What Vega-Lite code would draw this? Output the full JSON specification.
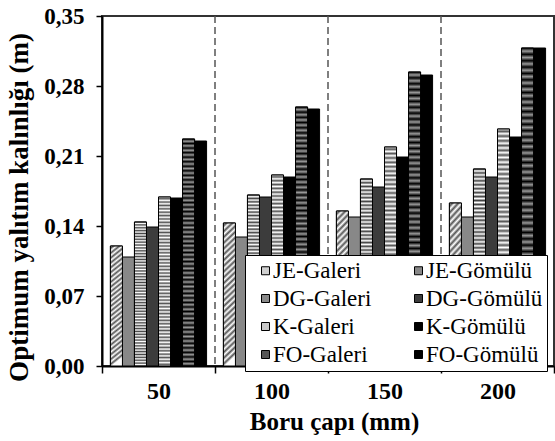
{
  "$schema": "https://vega.github.io/schema/vega-lite/v6.json",
  "width": 452,
  "height": 350,
  "autosize": {"type": "none"},
  "padding": {"left": 102, "top": 16, "right": 1, "bottom": 75},
  "background": "white",
  "config": {"view": {"stroke": "#333", "strokeWidth": 2}, "font": "Liberation Serif"},
  "data": {
    "values": [
      {"g": "50", "s": "JE-Galeri", "v": 0.120},
      {"g": "50", "s": "JE-Gömülü", "v": 0.109},
      {"g": "50", "s": "DG-Galeri", "v": 0.144},
      {"g": "50", "s": "DG-Gömülü", "v": 0.139},
      {"g": "50", "s": "K-Galeri", "v": 0.169},
      {"g": "50", "s": "K-Gömülü", "v": 0.168},
      {"g": "50", "s": "FO-Galeri", "v": 0.227},
      {"g": "50", "s": "FO-Gömülü", "v": 0.225},
      {"g": "100", "s": "JE-Galeri", "v": 0.143},
      {"g": "100", "s": "JE-Gömülü", "v": 0.129},
      {"g": "100", "s": "DG-Galeri", "v": 0.171},
      {"g": "100", "s": "DG-Gömülü", "v": 0.169},
      {"g": "100", "s": "K-Galeri", "v": 0.191},
      {"g": "100", "s": "K-Gömülü", "v": 0.189},
      {"g": "100", "s": "FO-Galeri", "v": 0.259},
      {"g": "100", "s": "FO-Gömülü", "v": 0.257},
      {"g": "150", "s": "JE-Galeri", "v": 0.155},
      {"g": "150", "s": "JE-Gömülü", "v": 0.149},
      {"g": "150", "s": "DG-Galeri", "v": 0.187},
      {"g": "150", "s": "DG-Gömülü", "v": 0.179},
      {"g": "150", "s": "K-Galeri", "v": 0.219},
      {"g": "150", "s": "K-Gömülü", "v": 0.209},
      {"g": "150", "s": "FO-Galeri", "v": 0.294},
      {"g": "150", "s": "FO-Gömülü", "v": 0.291},
      {"g": "200", "s": "JE-Galeri", "v": 0.163},
      {"g": "200", "s": "JE-Gömülü", "v": 0.149},
      {"g": "200", "s": "DG-Galeri", "v": 0.197},
      {"g": "200", "s": "DG-Gömülü", "v": 0.189},
      {"g": "200", "s": "K-Galeri", "v": 0.237},
      {"g": "200", "s": "K-Gömülü", "v": 0.229},
      {"g": "200", "s": "FO-Galeri", "v": 0.318},
      {"g": "200", "s": "FO-Gömülü", "v": 0.318}
    ]
  },
  "encoding": {
    "x": {
      "field": "g", "type": "nominal", "sort": ["50", "100", "150", "200"],
      "scale": {"paddingInner": 0, "paddingOuter": 0},
      "axis": {
        "title": "Boru çapı (mm)", "labelAngle": 0, "tickBand": "extent",
        "labelFont": "Liberation Serif", "labelFontWeight": "bold", "labelFontSize": 24, "labelColor": "#000",
        "labelPadding": 6, "tickSize": 7, "tickColor": "#000", "tickWidth": 1.5,
        "domainColor": "#000", "domainWidth": 2,
        "titleFont": "Liberation Serif", "titleFontWeight": "bold", "titleFontSize": 25, "titleColor": "#000",
        "titleX": 232, "titleY": 63, "titleBaseline": "alphabetic"
      }
    }
  },
  "layer": [
    {
      "data": {"values": [{"g": "100"}, {"g": "150"}, {"g": "200"}]},
      "mark": {"type": "rule", "strokeDash": [7, 4], "color": "#555", "strokeWidth": 1.5},
      "encoding": {
        "x": {"field": "g", "type": "nominal", "sort": ["50", "100", "150", "200"], "bandPosition": 0}
      }
    },
    {
      "encoding": {
        "xOffset": {
          "field": "s", "type": "nominal",
          "sort": ["JE-Galeri", "JE-Gömülü", "DG-Galeri", "DG-Gömülü", "K-Galeri", "K-Gömülü", "FO-Galeri", "FO-Gömülü"],
          "scale": {"paddingInner": 0, "paddingOuter": 0.7}
        },
        "y": {
          "field": "v", "type": "quantitative",
          "scale": {"domain": [0, 0.35], "nice": false},
          "axis": {
            "title": "Optimum yalıtım kalınlığı (m)",
            "values": [0, 0.07, 0.14, 0.21, 0.28, 0.35],
            "labelExpr": "replace(format(datum.value, '.2f'), '.', ',')",
            "labelFont": "Liberation Serif", "labelFontWeight": "bold", "labelFontSize": 23, "labelColor": "#000",
            "labelPadding": 12, "tickSize": 6, "tickColor": "#000", "tickWidth": 1.5,
            "domainColor": "#000", "domainWidth": 2, "grid": false,
            "titleFont": "Liberation Serif", "titleFontWeight": "bold", "titleFontSize": 27, "titleColor": "#000",
            "titleX": -83, "titleY": 191, "titleAngle": -90, "titleBaseline": "middle", "titleAlign": "center"
          }
        }
      },
      "layer": [
        {
          "mark": {"type": "bar", "stroke": "#000", "strokeWidth": 1},
          "encoding": {
            "fill": {
              "field": "s", "type": "nominal",
              "scale": {
                "domain": ["JE-Galeri", "JE-Gömülü", "DG-Galeri", "DG-Gömülü", "K-Galeri", "K-Gömülü", "FO-Galeri", "FO-Gömülü"],
                "range": ["#d0d0d0", "#888888", "#8a8a8a", "#3c3c3c", "#c8c8c8", "#000000", "#555555", "#000000"]
              },
              "legend": {
                "orient": "none", "legendX": 143, "legendY": 239, "columns": 2, "direction": "horizontal", "title": null,
                "fillColor": "white", "strokeColor": "#000", "padding": 4,
                "symbolType": "square", "symbolSize": 64, "symbolStrokeColor": "#000", "symbolStrokeWidth": 1,
                "symbolOffset": 5, "labelOffset": -4,
                "labelFont": "Liberation Serif", "labelFontSize": 23, "labelColor": "#000", "labelLimit": 300,
                "columnPadding": 30, "rowPadding": 4
              }
            }
          }
        },
        {
          "transform": [{"filter": "datum.s == 'JE-Galeri'"}],
          "mark": {"type": "bar", "stroke": "#000", "strokeWidth": 1,
            "fill": {"gradient": "linear", "x1": 0, "y1": 0, "x2": 0.08, "y2": 1, "stops": [
              {"offset":0,"color":"#fff"},{"offset":0.02,"color":"#555"},{"offset":0.04,"color":"#fff"},{"offset":0.06,"color":"#555"},{"offset":0.08,"color":"#fff"},{"offset":0.1,"color":"#555"},{"offset":0.12,"color":"#fff"},{"offset":0.14,"color":"#555"},{"offset":0.16,"color":"#fff"},{"offset":0.18,"color":"#555"},
              {"offset":0.2,"color":"#fff"},{"offset":0.22,"color":"#555"},{"offset":0.24,"color":"#fff"},{"offset":0.26,"color":"#555"},{"offset":0.28,"color":"#fff"},{"offset":0.3,"color":"#555"},{"offset":0.32,"color":"#fff"},{"offset":0.34,"color":"#555"},{"offset":0.36,"color":"#fff"},{"offset":0.38,"color":"#555"},
              {"offset":0.4,"color":"#fff"},{"offset":0.42,"color":"#555"},{"offset":0.44,"color":"#fff"},{"offset":0.46,"color":"#555"},{"offset":0.48,"color":"#fff"},{"offset":0.5,"color":"#555"},{"offset":0.52,"color":"#fff"},{"offset":0.54,"color":"#555"},{"offset":0.56,"color":"#fff"},{"offset":0.58,"color":"#555"},
              {"offset":0.6,"color":"#fff"},{"offset":0.62,"color":"#555"},{"offset":0.64,"color":"#fff"},{"offset":0.66,"color":"#555"},{"offset":0.68,"color":"#fff"},{"offset":0.7,"color":"#555"},{"offset":0.72,"color":"#fff"},{"offset":0.74,"color":"#555"},{"offset":0.76,"color":"#fff"},{"offset":0.78,"color":"#555"},
              {"offset":0.8,"color":"#fff"},{"offset":0.82,"color":"#555"},{"offset":0.84,"color":"#fff"},{"offset":0.86,"color":"#555"},{"offset":0.88,"color":"#fff"},{"offset":0.9,"color":"#555"},{"offset":0.92,"color":"#fff"},{"offset":0.94,"color":"#555"},{"offset":0.96,"color":"#fff"},{"offset":0.98,"color":"#555"},
              {"offset":1,"color":"#fff"}
            ]}
          },
          "encoding": {}
        },
        {
          "transform": [{"filter": "datum.s == 'DG-Galeri'"}],
          "mark": {"type": "bar", "stroke": "#000", "strokeWidth": 1,
            "fill": {"gradient": "linear", "x1": 0, "y1": 0, "x2": 0, "y2": 1, "stops": [
              {"offset":0,"color":"#444"},{"offset":0.01,"color":"#fff"},{"offset":0.02,"color":"#444"},{"offset":0.03,"color":"#fff"},{"offset":0.04,"color":"#444"},{"offset":0.05,"color":"#fff"},{"offset":0.06,"color":"#444"},{"offset":0.07,"color":"#fff"},{"offset":0.08,"color":"#444"},{"offset":0.09,"color":"#fff"},
              {"offset":0.1,"color":"#444"},{"offset":0.11,"color":"#fff"},{"offset":0.12,"color":"#444"},{"offset":0.13,"color":"#fff"},{"offset":0.14,"color":"#444"},{"offset":0.15,"color":"#fff"},{"offset":0.16,"color":"#444"},{"offset":0.17,"color":"#fff"},{"offset":0.18,"color":"#444"},{"offset":0.19,"color":"#fff"},
              {"offset":0.2,"color":"#444"},{"offset":0.21,"color":"#fff"},{"offset":0.22,"color":"#444"},{"offset":0.23,"color":"#fff"},{"offset":0.24,"color":"#444"},{"offset":0.25,"color":"#fff"},{"offset":0.26,"color":"#444"},{"offset":0.27,"color":"#fff"},{"offset":0.28,"color":"#444"},{"offset":0.29,"color":"#fff"},
              {"offset":0.3,"color":"#444"},{"offset":0.31,"color":"#fff"},{"offset":0.32,"color":"#444"},{"offset":0.33,"color":"#fff"},{"offset":0.34,"color":"#444"},{"offset":0.35,"color":"#fff"},{"offset":0.36,"color":"#444"},{"offset":0.37,"color":"#fff"},{"offset":0.38,"color":"#444"},{"offset":0.39,"color":"#fff"},
              {"offset":0.4,"color":"#444"},{"offset":0.41,"color":"#fff"},{"offset":0.42,"color":"#444"},{"offset":0.43,"color":"#fff"},{"offset":0.44,"color":"#444"},{"offset":0.45,"color":"#fff"},{"offset":0.46,"color":"#444"},{"offset":0.47,"color":"#fff"},{"offset":0.48,"color":"#444"},{"offset":0.49,"color":"#fff"},
              {"offset":0.5,"color":"#444"},{"offset":0.51,"color":"#fff"},{"offset":0.52,"color":"#444"},{"offset":0.53,"color":"#fff"},{"offset":0.54,"color":"#444"},{"offset":0.55,"color":"#fff"},{"offset":0.56,"color":"#444"},{"offset":0.57,"color":"#fff"},{"offset":0.58,"color":"#444"},{"offset":0.59,"color":"#fff"},
              {"offset":0.6,"color":"#444"},{"offset":0.61,"color":"#fff"},{"offset":0.62,"color":"#444"},{"offset":0.63,"color":"#fff"},{"offset":0.64,"color":"#444"},{"offset":0.65,"color":"#fff"},{"offset":0.66,"color":"#444"},{"offset":0.67,"color":"#fff"},{"offset":0.68,"color":"#444"},{"offset":0.69,"color":"#fff"},
              {"offset":0.7,"color":"#444"},{"offset":0.71,"color":"#fff"},{"offset":0.72,"color":"#444"},{"offset":0.73,"color":"#fff"},{"offset":0.74,"color":"#444"},{"offset":0.75,"color":"#fff"},{"offset":0.76,"color":"#444"},{"offset":0.77,"color":"#fff"},{"offset":0.78,"color":"#444"},{"offset":0.79,"color":"#fff"},
              {"offset":0.8,"color":"#444"},{"offset":0.81,"color":"#fff"},{"offset":0.82,"color":"#444"},{"offset":0.83,"color":"#fff"},{"offset":0.84,"color":"#444"},{"offset":0.85,"color":"#fff"},{"offset":0.86,"color":"#444"},{"offset":0.87,"color":"#fff"},{"offset":0.88,"color":"#444"},{"offset":0.89,"color":"#fff"},
              {"offset":0.9,"color":"#444"},{"offset":0.91,"color":"#fff"},{"offset":0.92,"color":"#444"},{"offset":0.93,"color":"#fff"},{"offset":0.94,"color":"#444"},{"offset":0.95,"color":"#fff"},{"offset":0.96,"color":"#444"},{"offset":0.97,"color":"#fff"},{"offset":0.98,"color":"#444"},{"offset":0.99,"color":"#fff"},
              {"offset":1,"color":"#444"}
            ]}
          },
          "encoding": {}
        },
        {
          "transform": [{"filter": "datum.s == 'K-Galeri'"}],
          "mark": {"type": "bar", "stroke": "#000", "strokeWidth": 1,
            "fill": {"gradient": "linear", "x1": 0, "y1": 0, "x2": 0, "y2": 1, "stops": [
              {"offset":0,"color":"#fff"},{"offset":0.01,"color":"#555"},{"offset":0.02,"color":"#fff"},{"offset":0.03,"color":"#555"},{"offset":0.04,"color":"#fff"},{"offset":0.05,"color":"#555"},{"offset":0.06,"color":"#fff"},{"offset":0.07,"color":"#555"},{"offset":0.08,"color":"#fff"},{"offset":0.09,"color":"#555"},
              {"offset":0.1,"color":"#fff"},{"offset":0.11,"color":"#555"},{"offset":0.12,"color":"#fff"},{"offset":0.13,"color":"#555"},{"offset":0.14,"color":"#fff"},{"offset":0.15,"color":"#555"},{"offset":0.16,"color":"#fff"},{"offset":0.17,"color":"#555"},{"offset":0.18,"color":"#fff"},{"offset":0.19,"color":"#555"},
              {"offset":0.2,"color":"#fff"},{"offset":0.21,"color":"#555"},{"offset":0.22,"color":"#fff"},{"offset":0.23,"color":"#555"},{"offset":0.24,"color":"#fff"},{"offset":0.25,"color":"#555"},{"offset":0.26,"color":"#fff"},{"offset":0.27,"color":"#555"},{"offset":0.28,"color":"#fff"},{"offset":0.29,"color":"#555"},
              {"offset":0.3,"color":"#fff"},{"offset":0.31,"color":"#555"},{"offset":0.32,"color":"#fff"},{"offset":0.33,"color":"#555"},{"offset":0.34,"color":"#fff"},{"offset":0.35,"color":"#555"},{"offset":0.36,"color":"#fff"},{"offset":0.37,"color":"#555"},{"offset":0.38,"color":"#fff"},{"offset":0.39,"color":"#555"},
              {"offset":0.4,"color":"#fff"},{"offset":0.41,"color":"#555"},{"offset":0.42,"color":"#fff"},{"offset":0.43,"color":"#555"},{"offset":0.44,"color":"#fff"},{"offset":0.45,"color":"#555"},{"offset":0.46,"color":"#fff"},{"offset":0.47,"color":"#555"},{"offset":0.48,"color":"#fff"},{"offset":0.49,"color":"#555"},
              {"offset":0.5,"color":"#fff"},{"offset":0.51,"color":"#555"},{"offset":0.52,"color":"#fff"},{"offset":0.53,"color":"#555"},{"offset":0.54,"color":"#fff"},{"offset":0.55,"color":"#555"},{"offset":0.56,"color":"#fff"},{"offset":0.57,"color":"#555"},{"offset":0.58,"color":"#fff"},{"offset":0.59,"color":"#555"},
              {"offset":0.6,"color":"#fff"},{"offset":0.61,"color":"#555"},{"offset":0.62,"color":"#fff"},{"offset":0.63,"color":"#555"},{"offset":0.64,"color":"#fff"},{"offset":0.65,"color":"#555"},{"offset":0.66,"color":"#fff"},{"offset":0.67,"color":"#555"},{"offset":0.68,"color":"#fff"},{"offset":0.69,"color":"#555"},
              {"offset":0.7,"color":"#fff"},{"offset":0.71,"color":"#555"},{"offset":0.72,"color":"#fff"},{"offset":0.73,"color":"#555"},{"offset":0.74,"color":"#fff"},{"offset":0.75,"color":"#555"},{"offset":0.76,"color":"#fff"},{"offset":0.77,"color":"#555"},{"offset":0.78,"color":"#fff"},{"offset":0.79,"color":"#555"},
              {"offset":0.8,"color":"#fff"},{"offset":0.81,"color":"#555"},{"offset":0.82,"color":"#fff"},{"offset":0.83,"color":"#555"},{"offset":0.84,"color":"#fff"},{"offset":0.85,"color":"#555"},{"offset":0.86,"color":"#fff"},{"offset":0.87,"color":"#555"},{"offset":0.88,"color":"#fff"},{"offset":0.89,"color":"#555"},
              {"offset":0.9,"color":"#fff"},{"offset":0.91,"color":"#555"},{"offset":0.92,"color":"#fff"},{"offset":0.93,"color":"#555"},{"offset":0.94,"color":"#fff"},{"offset":0.95,"color":"#555"},{"offset":0.96,"color":"#fff"},{"offset":0.97,"color":"#555"},{"offset":0.98,"color":"#fff"},{"offset":0.99,"color":"#555"},
              {"offset":1,"color":"#fff"}
            ]}
          },
          "encoding": {}
        },
        {
          "transform": [{"filter": "datum.s == 'FO-Galeri'"}],
          "mark": {"type": "bar", "stroke": "#000", "strokeWidth": 1,
            "fill": {"gradient": "linear", "x1": 0, "y1": 0, "x2": 0, "y2": 1, "stops": [
              {"offset":0,"color":"#000"},{"offset":0.01,"color":"#999"},{"offset":0.02,"color":"#000"},{"offset":0.03,"color":"#999"},{"offset":0.04,"color":"#000"},{"offset":0.05,"color":"#999"},{"offset":0.06,"color":"#000"},{"offset":0.07,"color":"#999"},{"offset":0.08,"color":"#000"},{"offset":0.09,"color":"#999"},
              {"offset":0.1,"color":"#000"},{"offset":0.11,"color":"#999"},{"offset":0.12,"color":"#000"},{"offset":0.13,"color":"#999"},{"offset":0.14,"color":"#000"},{"offset":0.15,"color":"#999"},{"offset":0.16,"color":"#000"},{"offset":0.17,"color":"#999"},{"offset":0.18,"color":"#000"},{"offset":0.19,"color":"#999"},
              {"offset":0.2,"color":"#000"},{"offset":0.21,"color":"#999"},{"offset":0.22,"color":"#000"},{"offset":0.23,"color":"#999"},{"offset":0.24,"color":"#000"},{"offset":0.25,"color":"#999"},{"offset":0.26,"color":"#000"},{"offset":0.27,"color":"#999"},{"offset":0.28,"color":"#000"},{"offset":0.29,"color":"#999"},
              {"offset":0.3,"color":"#000"},{"offset":0.31,"color":"#999"},{"offset":0.32,"color":"#000"},{"offset":0.33,"color":"#999"},{"offset":0.34,"color":"#000"},{"offset":0.35,"color":"#999"},{"offset":0.36,"color":"#000"},{"offset":0.37,"color":"#999"},{"offset":0.38,"color":"#000"},{"offset":0.39,"color":"#999"},
              {"offset":0.4,"color":"#000"},{"offset":0.41,"color":"#999"},{"offset":0.42,"color":"#000"},{"offset":0.43,"color":"#999"},{"offset":0.44,"color":"#000"},{"offset":0.45,"color":"#999"},{"offset":0.46,"color":"#000"},{"offset":0.47,"color":"#999"},{"offset":0.48,"color":"#000"},{"offset":0.49,"color":"#999"},
              {"offset":0.5,"color":"#000"},{"offset":0.51,"color":"#999"},{"offset":0.52,"color":"#000"},{"offset":0.53,"color":"#999"},{"offset":0.54,"color":"#000"},{"offset":0.55,"color":"#999"},{"offset":0.56,"color":"#000"},{"offset":0.57,"color":"#999"},{"offset":0.58,"color":"#000"},{"offset":0.59,"color":"#999"},
              {"offset":0.6,"color":"#000"},{"offset":0.61,"color":"#999"},{"offset":0.62,"color":"#000"},{"offset":0.63,"color":"#999"},{"offset":0.64,"color":"#000"},{"offset":0.65,"color":"#999"},{"offset":0.66,"color":"#000"},{"offset":0.67,"color":"#999"},{"offset":0.68,"color":"#000"},{"offset":0.69,"color":"#999"},
              {"offset":0.7,"color":"#000"},{"offset":0.71,"color":"#999"},{"offset":0.72,"color":"#000"},{"offset":0.73,"color":"#999"},{"offset":0.74,"color":"#000"},{"offset":0.75,"color":"#999"},{"offset":0.76,"color":"#000"},{"offset":0.77,"color":"#999"},{"offset":0.78,"color":"#000"},{"offset":0.79,"color":"#999"},
              {"offset":0.8,"color":"#000"},{"offset":0.81,"color":"#999"},{"offset":0.82,"color":"#000"},{"offset":0.83,"color":"#999"},{"offset":0.84,"color":"#000"},{"offset":0.85,"color":"#999"},{"offset":0.86,"color":"#000"},{"offset":0.87,"color":"#999"},{"offset":0.88,"color":"#000"},{"offset":0.89,"color":"#999"},
              {"offset":0.9,"color":"#000"},{"offset":0.91,"color":"#999"},{"offset":0.92,"color":"#000"},{"offset":0.93,"color":"#999"},{"offset":0.94,"color":"#000"},{"offset":0.95,"color":"#999"},{"offset":0.96,"color":"#000"},{"offset":0.97,"color":"#999"},{"offset":0.98,"color":"#000"},{"offset":0.99,"color":"#999"},
              {"offset":1,"color":"#000"}
            ]}
          },
          "encoding": {}
        }
      ]
    }
  ]
}
